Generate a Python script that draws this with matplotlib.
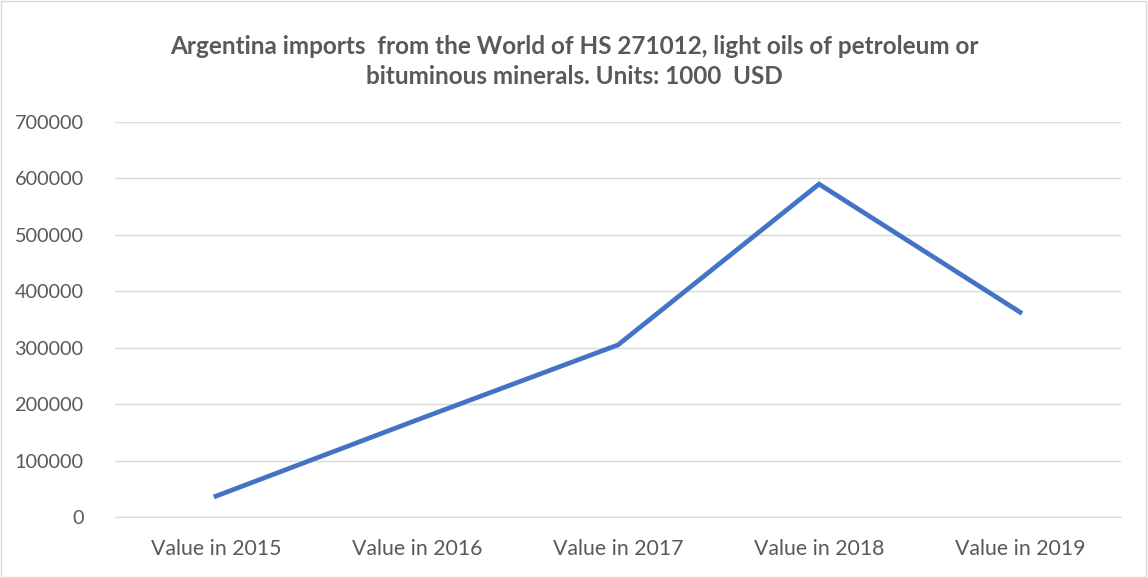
import matplotlib.pyplot as plt
from matplotlib.patches import Rectangle

categories = ['Value in 2015', 'Value in 2016', 'Value in 2017', 'Value in 2018', 'Value in 2019']
values = [37000, 172000, 305000, 590000, 363000]
yticks = [0, 100000, 200000, 300000, 400000, 500000, 600000, 700000]

plt.rcParams['font.family'] = ['Lato', 'DejaVu Sans']

fig = plt.figure(figsize=(11.48, 5.78), dpi=100)
ax = fig.add_axes([0.1006, 0.1055, 0.8755, 0.6834])

x = list(range(len(categories)))
ax.plot(x, values, color='#4472C4', linewidth=3.4, solid_joinstyle='miter')

ax.set_xlim(-0.5, len(categories) - 0.5)
ax.set_ylim(0, 700000)
ax.set_yticks(yticks)
ax.set_yticklabels([str(v) for v in yticks])
ax.set_xticks(x)
ax.set_xticklabels(categories)
ax.tick_params(axis='both', length=0, colors='#595959')
ax.tick_params(axis='y', pad=23, labelsize=14.3)
ax.tick_params(axis='x', pad=16, labelsize=15.3)
ax.grid(axis='y', color='#D9D9D9', linewidth=1)
ax.set_axisbelow(True)
for s in ['top', 'right', 'left']:
    ax.spines[s].set_visible(False)
ax.spines['bottom'].set_color('#D9D9D9')

fig.text(0.5, 0.894, 'Argentina imports  from the World of HS 271012, light oils of petroleum or\nbituminous minerals. Units: 1000  USD',
         ha='center', va='center', fontsize=17.5, fontweight='bold', color='#595959', linespacing=1.38)

fig.patches.append(Rectangle((0.001, 0.002), 0.997, 0.996, transform=fig.transFigure,
                             fill=False, edgecolor='#D9D9D9', linewidth=1))

fig.savefig('out.png', dpi=100)
